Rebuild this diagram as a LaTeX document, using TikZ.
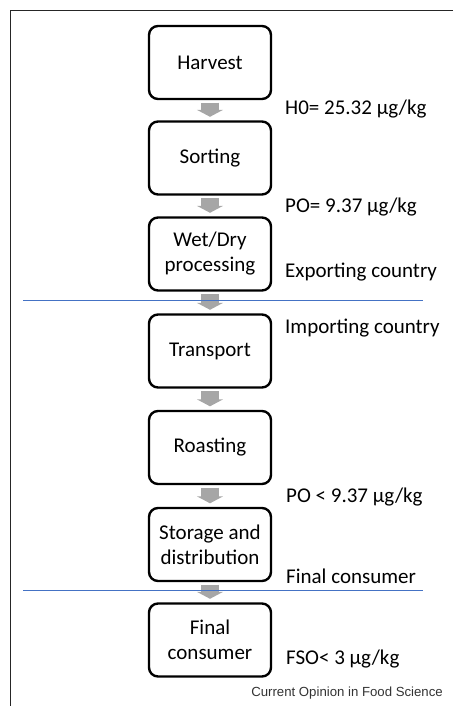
\documentclass[tikz,border=0pt]{standalone}
\usepackage{fontspec}
\setmainfont{Carlito}
\newfontfamily\arialfont{Liberation Sans}
\usetikzlibrary{arrows.meta}
\definecolor{arrowgray}{RGB}{166,166,166}
\definecolor{lineblue}{RGB}{68,114,196}
\tikzset{
  stepbox/.style={draw=black, line width=2.4pt, rounded corners=9pt, minimum width=122pt, minimum height=73pt, align=center, inner sep=0pt, font=\fontsize{21}{25}\selectfont},
  flowarrow/.style={draw=arrowgray, line width=18pt, -{Triangle[width=26pt,length=7pt]}, shorten <=2.5pt, shorten >=3.5pt},
  sidelabel/.style={anchor=west, inner sep=0pt, font=\fontsize{21}{25}\selectfont},
  divider/.style={draw=lineblue, line width=1pt},
  frameline/.style={draw=black!85, line width=1pt}
}
\begin{document}
\begin{tikzpicture}[x=1pt,y=-1pt]
\useasboundingbox (0,0) rectangle (453,706);
\coordinate (ftop) at (453,11);
\coordinate (fcorner) at (10,11);
\coordinate (fbot) at (10,706);
\draw[frameline] (ftop) -- (fcorner) -- (fbot);

\node[stepbox] (harvest) at (210,62.5) {Harvest};
\node[stepbox] (sorting) at (210,158) {Sorting};
\node[stepbox] (wetdry) at (210,254) {Wet/Dry\\processing};
\node[stepbox] (transport) at (210,351) {Transport};
\node[stepbox] (roasting) at (210,447.5) {Roasting};
\node[stepbox] (storage) at (210,544.5) {Storage and\\distribution};
\node[stepbox] (consumer) at (210,640) {Final\\consumer};

\draw[flowarrow] (harvest) -- (sorting);
\draw[flowarrow] (sorting) -- (wetdry);
\draw[flowarrow] (wetdry) -- (transport);
\draw[flowarrow] (transport) -- (roasting);
\draw[flowarrow] (roasting) -- (storage);
\draw[flowarrow] (storage) -- (consumer);

\coordinate (d1a) at (23,300);
\coordinate (d1b) at (423,300);
\coordinate (d2a) at (23,590);
\coordinate (d2b) at (423,590);
\draw[divider] (d1a) -- (d1b);
\draw[divider] (d2a) -- (d2b);

\node[sidelabel] (l1) at (285,109) {H0= 25.32 µg/kg};
\node[sidelabel] (l2) at (285,207) {PO= 9.37 µg/kg};
\node[sidelabel] (l3) at (285,272) {Exporting country};
\node[sidelabel] (l4) at (285,328) {Importing country};
\node[sidelabel] (l5) at (286,497) {PO < 9.37 µg/kg};
\node[sidelabel] (l6) at (286,576) {Final consumer};
\node[sidelabel] (l7) at (286,659) {FSO< 3 µg/kg};

\node[anchor=east, inner sep=0pt, font=\arialfont\fontsize{13.2}{15}\selectfont, text=black!80] (credit) at (443,693) {Current Opinion in Food Science};
\end{tikzpicture}
\end{document}
